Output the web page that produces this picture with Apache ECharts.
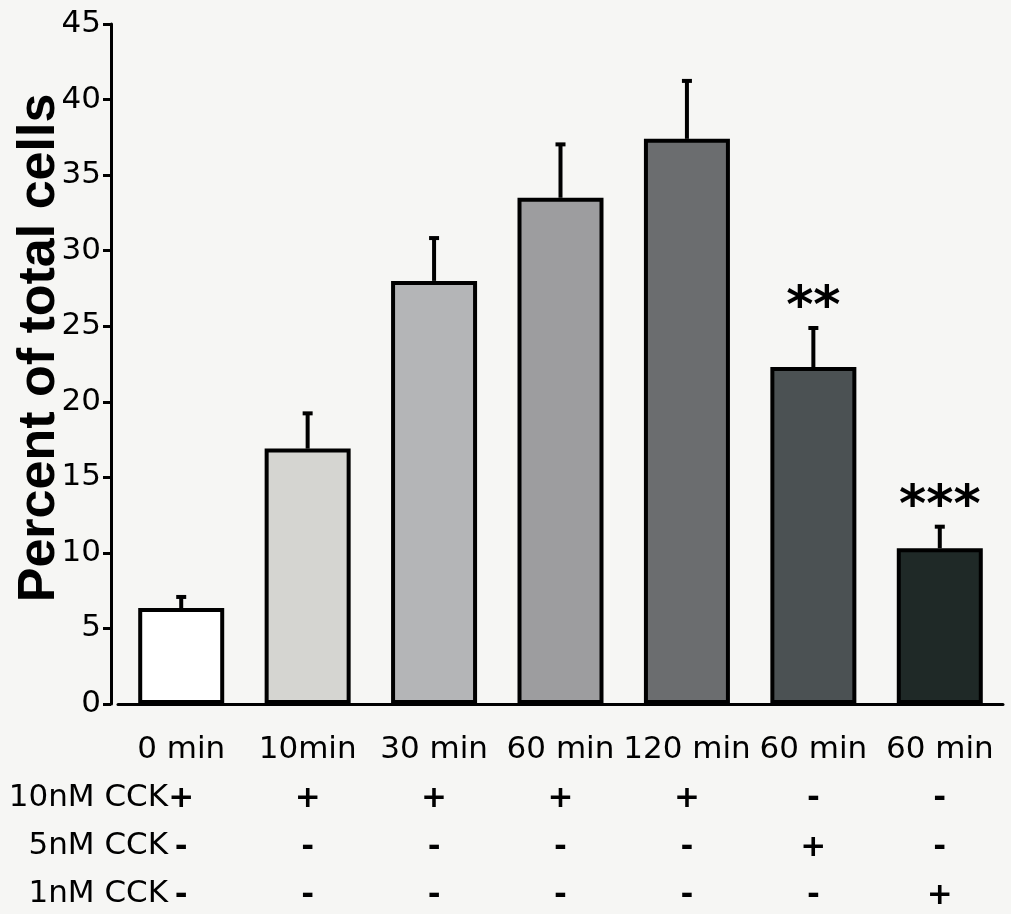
<!DOCTYPE html>
<html>
<head>
<meta charset="utf-8">
<script src="https://cdn.jsdelivr.net/npm/echarts@6/dist/echarts.min.js"></script>
<style>
  html, body { margin: 0; padding: 0; background: #f6f6f4; }
  #chart { width: 1011px; height: 914px; }
</style>
</head>
<body>
<div id="chart"></div>
<script>
const categories = ['0 min', '10min', '30 min', '60 min', '120 min', '60 min', '60 min'];
const means = [6.35, 16.9, 28.0, 33.5, 37.4, 22.3, 10.3];
const errors = [0.8, 2.4, 2.9, 3.6, 3.9, 2.65, 1.5];
const significance = ['', '', '', '', '', '**', '***'];
const cck10 = ['+', '+', '+', '+', '+', '-', '-'];
const cck5 = ['-', '-', '-', '-', '-', '+', '-'];
const cck1 = ['-', '-', '-', '-', '-', '-', '+'];
const rowLabels = ['10nM CCK', '5nM CCK', '1nM CCK'];
const barColors = ['#ffffff', '#d5d5d1', '#b4b5b7', '#9d9d9f', '#6b6d6f', '#4b5153', '#1f2927'];
const yMin = 0, yMax = 45, yStep = 5;
const yTitle = 'Percent of total cells';

const chart = echarts.init(document.getElementById('chart'), null, { renderer: 'canvas' });
const FONT = '"DejaVu Sans", Verdana, sans-serif';

const option = {
  backgroundColor: '#f6f6f4',
  animation: false,
  grid: { left: 118, right: 8, top: 24, bottom: 210, containLabel: false, outerBoundsMode: 'none' },
  xAxis: {
    type: 'category',
    data: categories,
    boundaryGap: true,
    axisLine: { show: true, lineStyle: { color: '#000', width: 3 } },
    axisTick: { show: false },
    axisLabel: {
      interval: 0,
      margin: 22,
      color: '#000',
      formatter: function (value, index) {
        return '{t|' + value + '}\n{s|' + cck10[index] + '}\n{s|' + cck5[index] + '}\n{s|' + cck1[index] + '}';
      },
      rich: {
        t: { fontFamily: FONT, fontSize: 31, lineHeight: 48.7, color: '#000' },
        s: { fontFamily: FONT, fontSize: 31, fontWeight: 'bold', lineHeight: 48.7, color: '#000' }
      }
    },
    splitLine: { show: false }
  },
  yAxis: {
    type: 'value',
    min: yMin,
    max: yMax,
    interval: yStep,
    offset: 7,
    name: yTitle,
    nameLocation: 'middle',
    nameRotate: 90,
    nameGap: 45,
    nameMoveOverlap: false,
    nameTextStyle: {
      fontFamily: '"Liberation Sans", Arial, sans-serif', fontWeight: 'bold', fontSize: 52, color: '#000',
      padding: [0, 0, 0, 32]
    },
    axisLine: { show: true, lineStyle: { color: '#000', width: 3 } },
    axisTick: { show: true, length: 8, lineStyle: { color: '#000', width: 3 } },
    axisLabel: { fontFamily: FONT, fontSize: 31, color: '#000', margin: 10 },
    splitLine: { show: false }
  },
  series: [
    {
      type: 'bar',
      barWidth: 86,
      data: means.map(function (v, i) {
        return { value: v, itemStyle: { color: barColors[i], borderColor: '#000', borderWidth: 4 } };
      }),
      z: 2
    },
    {
      type: 'custom',
      z: 3,
      data: means.map(function (v, i) { return [i, v, errors[i]]; }),
      renderItem: function (params, api) {
        const i = api.value(0);
        const m = api.value(1);
        const e = api.value(2);
        const base = api.coord([i, m]);
        const top = api.coord([i, m + e]);
        const children = [
          { type: 'line', shape: { x1: base[0], y1: base[1], x2: top[0], y2: top[1] }, style: { stroke: '#000', lineWidth: 4 } },
          { type: 'line', shape: { x1: top[0] - 5, y1: top[1] + 1, x2: top[0] + 5, y2: top[1] + 1 }, style: { stroke: '#000', lineWidth: 4 } }
        ];
        const sig = significance[params.dataIndex];
        if (sig) {
          children.push({
            type: 'text',
            style: {
              text: sig, x: top[0], y: top[1] + 8,
              align: 'center', verticalAlign: 'bottom',
              textAlign: 'center', textVerticalAlign: 'bottom',
              font: 'bold 52px ' + FONT, fill: '#000'
            }
          });
        }
        return { type: 'group', children: children };
      }
    }
  ],
  graphic: rowLabels.map(function (t, k) {
    return {
      type: 'text',
      style: {
        text: t, x: 168, y: 798 + k * 48,
        font: '31px ' + FONT, fill: '#000',
        align: 'right', verticalAlign: 'middle',
        textAlign: 'right', textVerticalAlign: 'middle'
      }
    };
  })
};
chart.setOption(option);
</script>
</body>
</html>
